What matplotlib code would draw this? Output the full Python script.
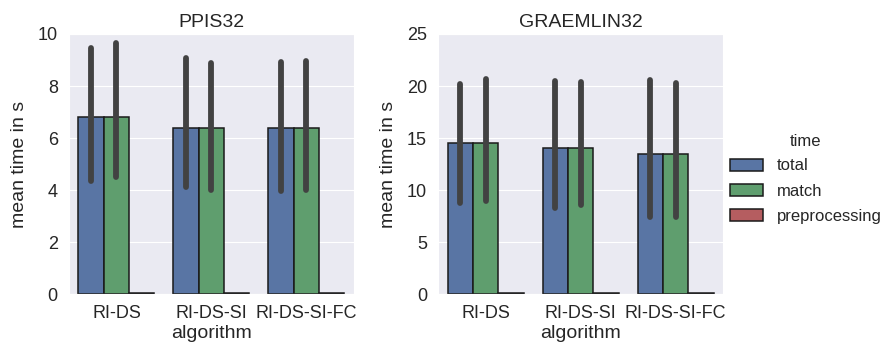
import numpy as np
import matplotlib
matplotlib.use("Agg")
import matplotlib.pyplot as plt
import seaborn as sns

# ----------------------
# Data
# ----------------------
algorithms = ["RI-DS", "RI-DS-SI", "RI-DS-SI-FC"]
hues = ["total", "match", "preprocessing"]

ppis_mean = {
    "total": [6.82, 6.37, 6.40],
    "match": [6.82, 6.37, 6.40],
    "preprocessing": [0.04, 0.04, 0.04],
}
ppis_lo = {
    "total": [4.36, 4.13, 3.97],
    "match": [4.52, 4.01, 4.01],
    "preprocessing": [0.035, 0.035, 0.035],
}
ppis_hi = {
    "total": [9.45, 9.06, 8.93],
    "match": [9.64, 8.90, 8.97],
    "preprocessing": [0.045, 0.045, 0.045],
}

graemlin_mean = {
    "total": [14.50, 14.08, 13.47],
    "match": [14.50, 14.08, 13.47],
    "preprocessing": [0.1, 0.1, 0.1],
}
graemlin_lo = {
    "total": [8.80, 8.32, 7.45],
    "match": [8.99, 8.57, 7.45],
    "preprocessing": [0.09, 0.09, 0.09],
}
graemlin_hi = {
    "total": [20.19, 20.48, 20.57],
    "match": [20.64, 20.41, 20.26],
    "preprocessing": [0.11, 0.11, 0.11],
}

panels = [
    ("PPIS32", ppis_mean, ppis_lo, ppis_hi, [0, 2, 4, 6, 8, 10], 10),
    ("GRAEMLIN32", graemlin_mean, graemlin_lo, graemlin_hi, [0, 5, 10, 15, 20, 25], 25),
]

# ----------------------
# Style
# ----------------------
sns.set_style("darkgrid")
plt.rcParams["font.family"] = ["Liberation Sans", "DejaVu Sans"]
plt.rcParams["font.size"] = 13

base = ["#4C72B0", "#55A868", "#C44E52"]
colors = [sns.desaturate(c, 0.75) for c in base]

fig = plt.figure(figsize=(8.91, 3.5), dpi=100)
axes = [
    fig.add_axes([0.0774, 0.159, 0.3199, 0.744]),
    fig.add_axes([0.4916, 0.159, 0.3199, 0.744]),
]

width = 0.8 / len(hues)
x = np.arange(len(algorithms))
handles = []
for ax, (title, mean, lo, hi, yticks, ymax) in zip(axes, panels):
    for i, h in enumerate(hues):
        pos = x - 0.4 + width * (i + 0.5)
        bars = ax.bar(pos, mean[h], width, color=colors[i],
                      edgecolor="#1a1a1a", linewidth=1.1, label=h, zorder=2)
        for b in bars:
            b.set_clip_on(False)
        if ax is axes[0]:
            handles.append(bars)
        for p, l, u in zip(pos, lo[h], hi[h]):
            ax.plot([p, p], [l, u], color=".26", lw=4.2,
                    solid_capstyle="round", zorder=3, clip_on=False)
    ax.set_xlim(-0.5, len(algorithms) - 0.5)
    ax.set_ylim(0, ymax)
    ax.set_yticks(yticks)
    ax.set_xticks(x)
    ax.set_xticklabels(algorithms)
    ax.set_title(title, fontsize=14, pad=5)
    ax.set_xlabel("algorithm", fontsize=14, labelpad=2)
    ax.set_ylabel("mean time in s", fontsize=14, labelpad=7)
    ax.tick_params(labelsize=13, length=0, pad=8)
    ax.grid(axis="x", visible=False)

leg = fig.legend(handles, hues, title="time", loc="center left",
                 bbox_to_anchor=(0.802, 0.49), frameon=False,
                 fontsize=12, title_fontsize=12, handlelength=2.0,
                 handletextpad=0.85, labelspacing=0.6)

fig.savefig("out.png", dpi=100)
